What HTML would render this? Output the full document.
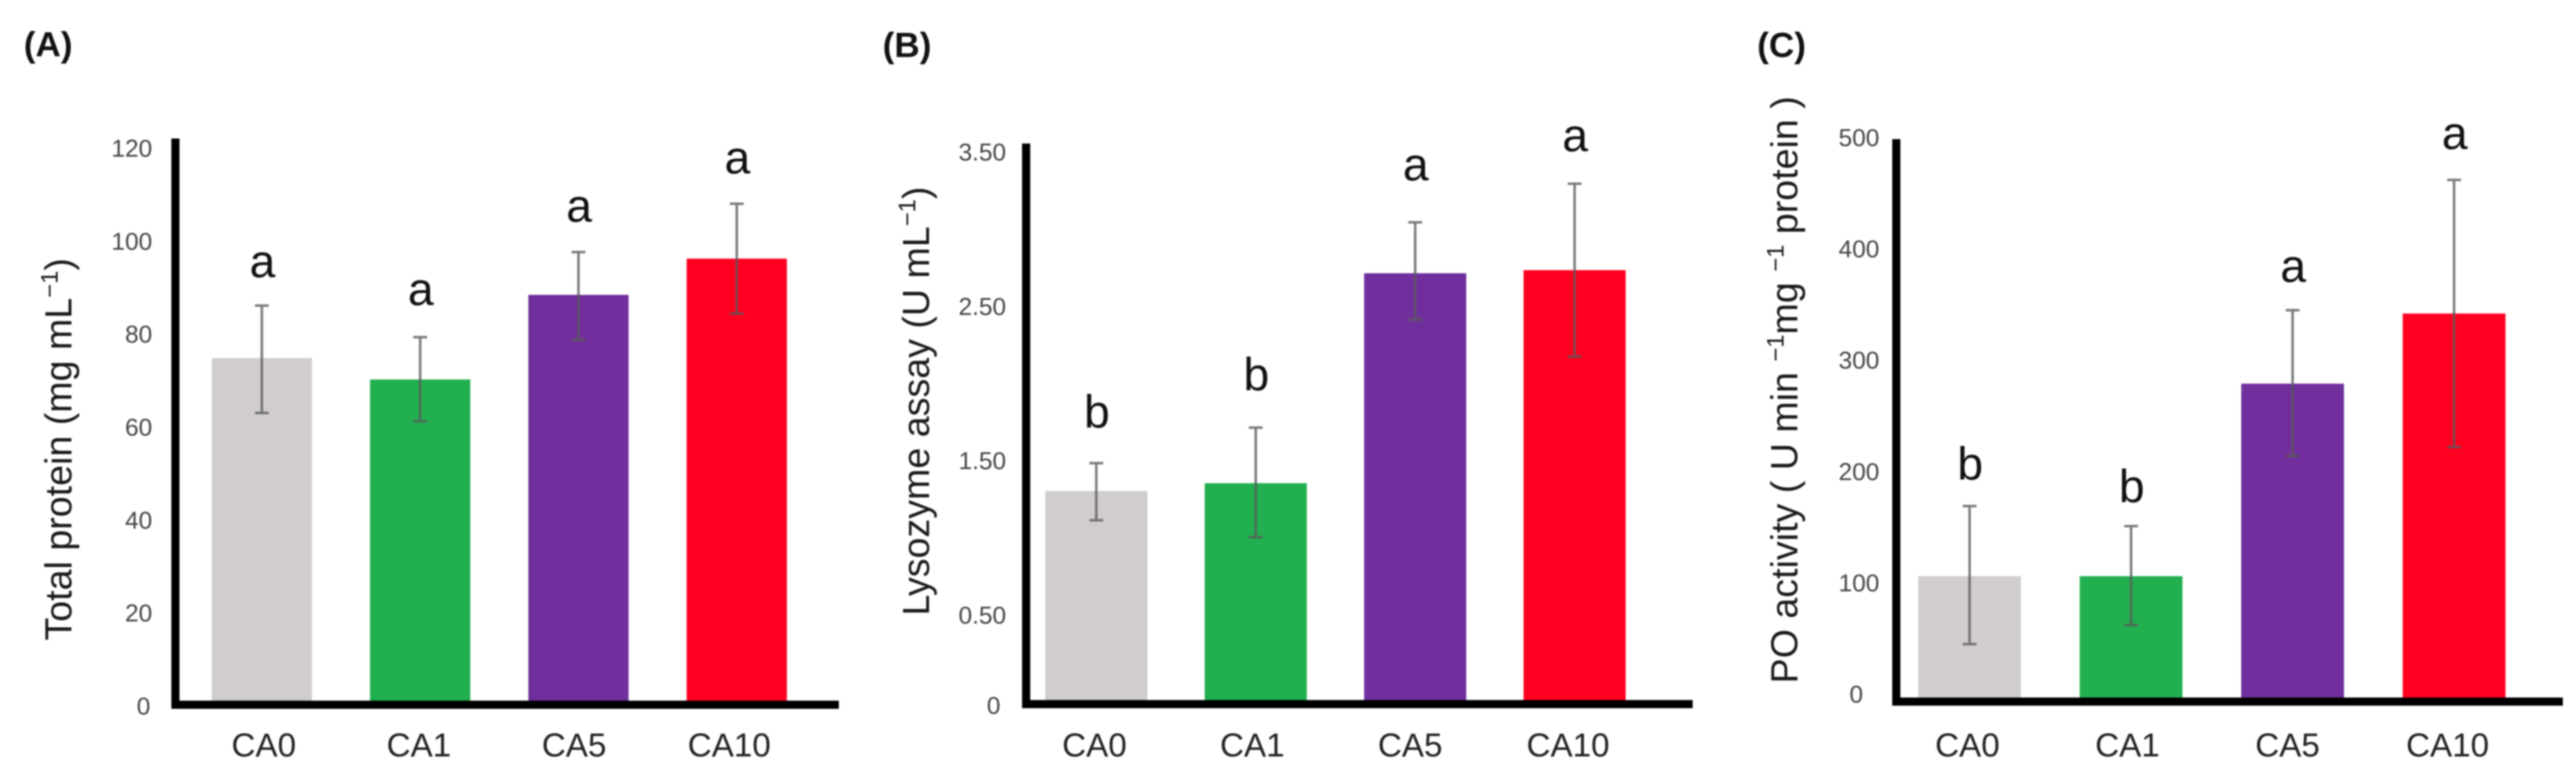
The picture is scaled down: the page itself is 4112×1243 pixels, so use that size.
<!DOCTYPE html>
<html lang="en">
<head>
<meta charset="utf-8">
<title>Immune parameters bar charts</title>
<style>
html,body{margin:0;padding:0;background:#fff;width:4112px;height:1243px;overflow:hidden}
svg{display:block;filter:blur(1.4px)}
text{font-family:"Liberation Sans",Arial,sans-serif}
</style>
</head>
<body>
<svg id="fig" xmlns="http://www.w3.org/2000/svg" width="4112" height="1243" viewBox="0 0 4112 1243">
  <rect x="0" y="0" width="4112" height="1243" fill="#fff"/>
  <text x="38" y="90" font-size="56" font-weight="700" fill="#111">(A)</text>
  <text x="1409" y="91" font-size="56" font-weight="700" fill="#111">(B)</text>
  <text x="2805" y="91" font-size="56" font-weight="700" fill="#111">(C)</text>
  <text transform="translate(114 717) rotate(-90)" text-anchor="middle" font-size="60" fill="#1a1a1a">Total protein (mg mL<tspan font-size="38" dy="-22">−1</tspan><tspan dy="22">)</tspan></text>
  <text transform="translate(1483 640) rotate(-90)" text-anchor="middle" font-size="60" fill="#1a1a1a">Lysozyme assay (U mL<tspan font-size="38" dy="-22">−1</tspan><tspan dy="22">)</tspan></text>
  <text transform="translate(2869 622) rotate(-90)" text-anchor="middle" font-size="60" fill="#1a1a1a">PO activity ( U min <tspan font-size="38" dy="-22">−1</tspan><tspan dy="22">mg </tspan><tspan font-size="38" dy="-22">−1</tspan><tspan dy="22"> protein </tspan>)</text>
</svg>
<script>
// Shared categories and colours
const categories = ["CA0", "CA1", "CA5", "CA10"];
const barColors = ["#d0cdcc", "#21af4f", "#702f9c", "#ff0020"];

// Panel A: total protein
const valuesA = [73.7, 69.1, 87.3, 95.1];
const upperA = [85.0, 78.2, 96.5, 106.9];
const lowerA = [61.9, 60.1, 77.6, 83.3];
const lettersA = ["a", "a", "a", "a"];
const letterLiftA = [6.1, 6.9, 6.5, 6.5];
const ticksA = [0, 20, 40, 60, 80, 100, 120];
const tickLabelsA = ["0", "20", "40", "60", "80", "100", "120"];

// Panel B: lysozyme assay
const valuesB = [1.27, 1.32, 2.68, 2.70];
const upperB = [1.45, 1.68, 3.01, 3.26];
const lowerB = [1.08, 0.97, 2.38, 2.14];
const lettersB = ["b", "b", "a", "a"];
const letterLiftB = [0.23, 0.24, 0.27, 0.21];
const ticksB = [0, 0.5, 1.5, 2.5, 3.5];
const tickLabelsB = ["0", "0.50", "1.50", "2.50", "3.50"];

// Panel C: PO activity
const valuesC = [109, 109, 282, 345];
const upperC = [172, 154, 348, 465];
const lowerC = [48, 65, 217, 225];
const lettersC = ["b", "b", "a", "a"];
const letterLiftC = [23.6, 21.4, 25.3, 27.6];
const ticksC = [0, 100, 200, 300, 400, 500];
const tickLabelsC = ["0", "100", "200", "300", "400", "500"];

const svg = document.getElementById("fig");
const NS = "http://www.w3.org/2000/svg";

function make(tag, props, parent) {
  const el = document.createElementNS(NS, tag);
  for (const k in props) el.setAttribute(k, props[k]);
  parent.appendChild(el);
  return el;
}

// Piecewise-linear axis scale
function makeScale(domain, range) {
  return function (v) {
    let i = 0;
    while (i < domain.length - 2 && v > domain[i + 1]) i++;
    const t = (v - domain[i]) / (domain[i + 1] - domain[i]);
    return range[i] + t * (range[i + 1] - range[i]);
  };
}

function drawPanel(key, cfg, values, upper, lower, letters, lift, ticks, tickLabels) {
  const g = make("g", {}, svg);
  
  
  const y = makeScale(cfg.domain, cfg.range);
  const x = function (i) { return cfg.x0 + i * cfg.step; };
  const labelX = function (i) { return cfg.labelX0 + i * cfg.labelStep; };
  const base = y(0);

  categories.forEach(function (cat, i) {
    const bar = make("rect", {
      x: x(i) - cfg.barWidth / 2,
      y: y(values[i]),
      width: cfg.barWidth,
      height: base - y(values[i]),
      fill: barColors[i]
    }, g);
    
    
  });

  categories.forEach(function (cat, i) {
    const err = make("path", {
      d: "M" + x(i) + " " + y(upper[i]) + "V" + y(lower[i]) +
         "M" + (x(i) - 11) + " " + y(upper[i]) + "H" + (x(i) + 11) +
         "M" + (x(i) - 11) + " " + y(lower[i]) + "H" + (x(i) + 11),
      stroke: "#5a5a5a",
      "stroke-opacity": "0.8",
      "stroke-width": 4,
      fill: "none"
    }, g);
    
    

    const letter = make("text", {
      x: x(i) + 1,
      y: y(upper[i] + lift[i]),
      "text-anchor": "middle",
      "font-size": 74,
      fill: "#111"
    }, g);
    letter.textContent = letters[i];
    
    

    const lab = make("text", {
      x: labelX(i),
      y: cfg.catY,
      "text-anchor": "middle",
      "font-size": 53,
      fill: "#222"
    }, g);
    lab.textContent = cat;
    
    
  });

  ticks.forEach(function (t, i) {
    const tick = make("text", {
      x: t === 0 ? cfg.tickRight - cfg.zeroShift : cfg.tickRight,
      y: y(t) + cfg.tickDy,
      "text-anchor": "end",
      "font-size": 39,
      fill: "#444"
    }, g);
    tick.textContent = tickLabels[i];
    
    
  });

  const yAxis = make("line", {
    x1: cfg.axisX, x2: cfg.axisX, y1: cfg.axisTop, y2: base + 13,
    stroke: "#000", "stroke-width": 13
  }, g);
  
  

  const xAxis = make("line", {
    x1: cfg.axisX - 6.5, x2: cfg.axisRight, y1: base + 6.5, y2: base + 6.5,
    stroke: "#000", "stroke-width": 13
  }, g);
  
  
}

drawPanel("a", {
  domain: [0, 120], range: [1118, 228],
  x0: 418, step: 252.7, barWidth: 160,
  labelX0: 421, labelStep: 247.7, catY: 1207,
  tickRight: 243, tickDy: 22, zeroShift: 3,
  axisX: 280, axisTop: 221, axisRight: 1339
}, valuesA, upperA, lowerA, lettersA, letterLiftA, ticksA, tickLabelsA);

drawPanel("b", {
  domain: [0, 0.5, 3.5], range: [1117, 973, 234],
  x0: 1750, step: 254.5, barWidth: 163,
  labelX0: 1747, labelStep: 252, catY: 1207,
  tickRight: 1606, tickDy: 22, zeroShift: 9,
  axisX: 1638, axisTop: 229, axisRight: 2702
}, valuesB, upperB, lowerB, lettersB, letterLiftB, ticksB, tickLabelsB);

drawPanel("c", {
  domain: [0, 500], range: [1113, 225],
  x0: 3144, step: 257.8, barWidth: 164,
  labelX0: 3140.5, labelStep: 255.5, catY: 1207,
  tickRight: 3000, tickDy: 8, zeroShift: 26,
  axisX: 3027, axisTop: 222, axisRight: 4091
}, valuesC, upperC, lowerC, lettersC, letterLiftC, ticksC, tickLabelsC);
</script>
</body>
</html>
